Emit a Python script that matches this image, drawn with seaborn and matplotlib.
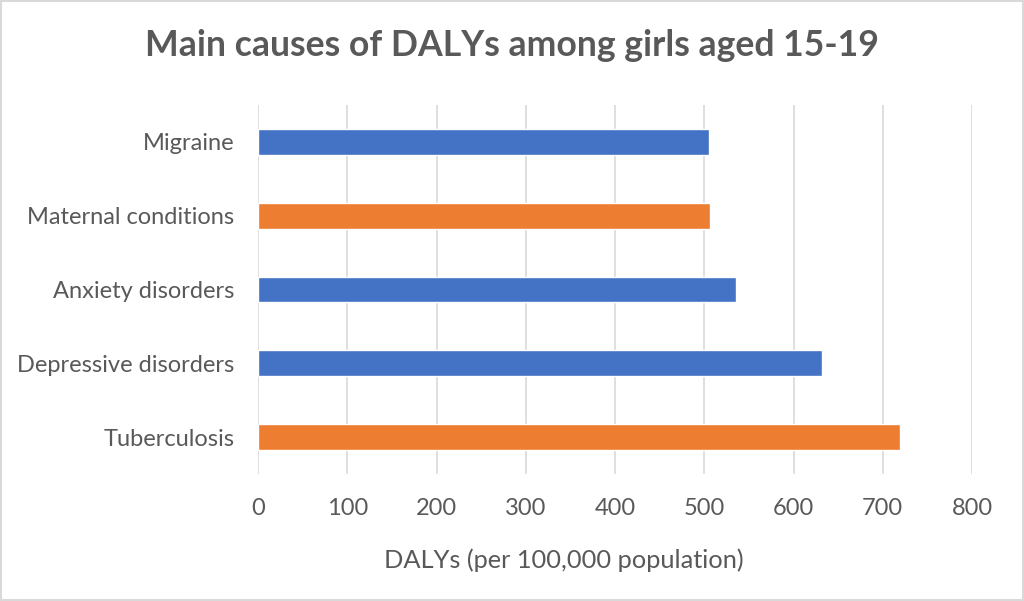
import matplotlib
matplotlib.use("Agg")
import matplotlib.pyplot as plt
import seaborn as sns
import pandas as pd
from matplotlib.patches import Rectangle

causes = ["Migraine", "Maternal conditions", "Anxiety disorders",
          "Depressive disorders", "Tuberculosis"]
dalys = [505, 507, 536, 632, 719]
bar_colors = ["#4472C4", "#ED7D31", "#4472C4", "#4472C4", "#ED7D31"]
x_ticks = [0, 100, 200, 300, 400, 500, 600, 700, 800]

df = pd.DataFrame({"cause": causes, "dalys": dalys})

sns.set_theme(style="white")
plt.rcParams["font.family"] = ["Lato", "DejaVu Sans"]

fig = plt.figure(figsize=(10.24, 6.01), dpi=100)
ax = fig.add_axes([258/1024, 1-474/601, 714/1024, 369/601])

sns.barplot(data=df, y="cause", x="dalys", hue="cause", palette=bar_colors,
            order=causes, hue_order=causes, orient="h", width=0.35,
            legend=False, ax=ax, saturation=1)

ax.set_xlim(0, 800)
ax.set_xticks(x_ticks)
ax.set_xticklabels([str(t) for t in x_ticks])
ax.grid(axis="x", color="#d9d9d9", linewidth=1.2)
ax.set_axisbelow(True)
for s in ax.spines.values():
    s.set_visible(False)
ax.tick_params(axis="both", length=0, labelsize=17, colors="#595959")
ax.tick_params(axis="x", pad=17)
ax.tick_params(axis="y", pad=17)
ax.set_ylabel("")
ax.set_xlabel("DALYs (per 100,000 population)", fontsize=18.3, color="#595959")
ax.xaxis.set_label_coords((564-258)/714, (474-560)/369)
ax.xaxis.label.set_verticalalignment("center")

fig.text(0.5, 1-46/601, "Main causes of DALYs among girls aged 15-19",
         ha="center", va="center", fontsize=25.7, fontweight="bold", color="#595959")

fig.patches.append(Rectangle((0.001, 0.001), 0.998, 0.997, transform=fig.transFigure,
                             fill=False, edgecolor="#d9d9d9", linewidth=1.5))

fig.savefig("out.png", dpi=100, facecolor="white")
